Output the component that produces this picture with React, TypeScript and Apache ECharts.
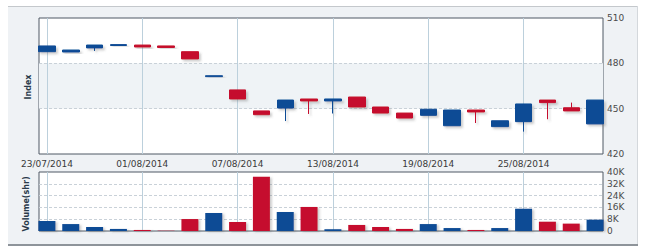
import React, { useEffect, useRef } from "react";
import * as echarts from "echarts";

const dates = [
  "23/07/2014", "24/07/2014", "25/07/2014", "31/07/2014",
  "01/08/2014", "04/08/2014", "05/08/2014", "06/08/2014",
  "07/08/2014", "08/08/2014", "11/08/2014", "12/08/2014",
  "13/08/2014", "14/08/2014", "15/08/2014", "18/08/2014",
  "19/08/2014", "20/08/2014", "21/08/2014", "22/08/2014",
  "25/08/2014", "26/08/2014", "27/08/2014", "28/08/2014",
];
const tickDates = ["23/07/2014", "01/08/2014", "07/08/2014", "13/08/2014", "19/08/2014", "25/08/2014"];

const opens = [487.7, 487.5, 490.2, 491.8, 492.1, 491.5, 487.7, 471.2, 462.4, 448.5, 450.4, 456.4, 455.1, 457.7, 451.1, 447.1, 445.6, 438.7, 449.1, 438.1, 441.4, 455.7, 450.6, 439.9];
const closes = [491.5, 488.8, 492.1, 492.4, 490.8, 490.5, 482.9, 471.8, 456.4, 446.0, 455.7, 455.1, 456.4, 451.1, 447.1, 443.8, 449.6, 449.1, 447.8, 442.0, 453.1, 454.0, 448.5, 455.7];
const lows = [487.7, 487.5, 488.2, 491.8, 490.8, 490.5, 482.9, 471.2, 456.4, 446.0, 441.8, 446.5, 446.8, 451.1, 447.1, 443.8, 445.6, 438.7, 440.5, 438.1, 434.8, 443.0, 448.5, 439.9];
const highs = [491.5, 488.8, 492.1, 492.4, 492.1, 491.5, 487.7, 471.8, 462.4, 448.5, 455.7, 456.4, 456.4, 457.7, 451.1, 447.1, 449.6, 449.1, 449.1, 442.0, 453.1, 455.7, 454.0, 455.7];
const volumes = [6800, 4700, 2700, 1400, 700, 200, 8100, 12200, 6100, 36800, 12900, 16300, 1200, 4100, 2700, 1400, 4700, 2000, 700, 2000, 15100, 6300, 5000, 7700];

const priceMin = 420;
const priceMax = 510;
const priceStep = 30;
const volMin = 0;
const volMax = 40000;
const volStep = 8000;

export default function App() {
  const ref = useRef<HTMLDivElement>(null);
  useEffect(() => {
    const chart = echarts.init(ref.current!, null, { renderer: "svg" });
    const UP = "#0d4b95";
    const DOWN = "#c5102d";
    const FONT = "DejaVu Sans";
    const candleData = dates.map((_, i) => [opens[i], closes[i], lows[i], highs[i]]);
    const volData = volumes.map((v, i) => ({
      value: v,
      itemStyle: { color: closes[i] >= opens[i] ? UP : DOWN },
    }));
    const vlines = () => ({
      silent: true,
      symbol: "none",
      z: 1,
      animation: false,
      label: { show: false },
      emphasis: { disabled: true },
      lineStyle: { color: "#bcd0dc", width: 1, type: "solid" },
      data: tickDates.map((d) => ({ xAxis: d })),
    });
    const hidden = { show: false };

    chart.setOption({
      animation: false,
      textStyle: { fontFamily: FONT },
      graphic: [
        { type: "rect", z: -100, shape: { x: 8, y: 6, width: 630, height: 239 }, style: { fill: "#eff2f5" } },
        { type: "line", z: -99, shape: { x1: 8, y1: 6.5, x2: 638, y2: 6.5 }, style: { stroke: "#c4c8cc", lineWidth: 1 } },
        { type: "line", z: -99, shape: { x1: 637.5, y1: 6, x2: 637.5, y2: 245 }, style: { stroke: "#d4d8dc", lineWidth: 1 } },
        { type: "line", z: -99, shape: { x1: 8, y1: 245, x2: 638, y2: 245 }, style: { stroke: "#8e949a", lineWidth: 2 } },
        {
          type: "text", z: 100, x: 28, y: 87, rotation: Math.PI / 2,
          style: { text: "Index", fill: "#2a3a4a", font: `bold 8px '${FONT}'`, align: "center", verticalAlign: "middle" },
        },
        {
          type: "text", z: 100, x: 26, y: 204, rotation: Math.PI / 2,
          style: { text: "Volume(shr)", fill: "#2a3a4a", font: `bold 8px '${FONT}'`, align: "center", verticalAlign: "middle" },
        },
      ],
      grid: [
        { left: 39, top: 18, width: 564, height: 136, show: true, backgroundColor: "#ffffff", borderColor: "#4e5964", borderWidth: 1 },
        { left: 35, top: 18, width: 572, height: 136 },
        { left: 39, top: 172, width: 564, height: 59, show: true, backgroundColor: "#ffffff", borderColor: "#4e5964", borderWidth: 1 },
        { left: 35, top: 172, width: 572, height: 59 },
      ],
      xAxis: [
        { gridIndex: 0, type: "value", min: 0, max: 1, show: false },
        {
          gridIndex: 1, type: "category", data: dates, boundaryGap: true,
          axisLine: hidden, axisTick: hidden, splitLine: hidden,
          axisLabel: { interval: 3, margin: 5, fontSize: 9, color: "#3a3a3a", fontFamily: FONT },
        },
        { gridIndex: 2, type: "value", min: 0, max: 1, show: false },
        {
          gridIndex: 3, type: "category", data: dates, boundaryGap: true,
          axisLine: hidden, axisTick: hidden, splitLine: hidden, axisLabel: hidden,
        },
      ],
      yAxis: [
        {
          gridIndex: 0, type: "value", position: "right", min: priceMin, max: priceMax, interval: priceStep,
          axisLine: hidden, axisTick: hidden,
          axisLabel: { margin: 4, fontSize: 9, color: "#4a4a4a", fontFamily: FONT },
          splitLine: { show: true, showMinLine: false, showMaxLine: false, lineStyle: { color: "#c9d1d8", type: [3, 2] } },
          splitArea: { show: true, areaStyle: { color: ["rgba(0,0,0,0)", "#eff3f6"] } },
        },
        { gridIndex: 1, type: "value", min: priceMin, max: priceMax, show: false },
        {
          gridIndex: 2, type: "value", position: "right", min: volMin, max: volMax, interval: volStep,
          axisLine: hidden, axisTick: hidden,
          axisLabel: {
            margin: 4, fontSize: 9, color: "#4a4a4a", fontFamily: FONT,
            formatter: (v: number) => (v === 0 ? "0" : v / 1000 + "K"),
          },
          splitLine: { show: true, showMinLine: false, showMaxLine: false, lineStyle: { color: "#c9d1d8", type: [3, 2] } },
        },
        { gridIndex: 3, type: "value", min: volMin, max: volMax, show: false },
      ],
      series: [
        {
          type: "candlestick",
          xAxisIndex: 1,
          yAxisIndex: 1,
          z: 3,
          barWidth: 17,
          data: candleData,
          itemStyle: {
            color: UP,
            color0: DOWN,
            borderColor: UP,
            borderColor0: DOWN,
            borderWidth: 1,
            shadowColor: "rgba(90,90,90,0.3)",
            shadowBlur: 2,
            shadowOffsetX: 2,
            shadowOffsetY: 2,
          },
          markLine: vlines(),
        },
        {
          type: "bar",
          xAxisIndex: 3,
          yAxisIndex: 3,
          z: 3,
          barWidth: 17,
          data: volData,
          itemStyle: {
            shadowColor: "rgba(90,90,90,0.3)",
            shadowBlur: 2,
            shadowOffsetX: 2,
            shadowOffsetY: 1,
          },
          markLine: vlines(),
        },
      ],
    });
    return () => chart.dispose();
  }, []);
  return <div ref={ref} style={{ position: "absolute", left: 0, top: 0, width: 650, height: 250 }} />;
}
